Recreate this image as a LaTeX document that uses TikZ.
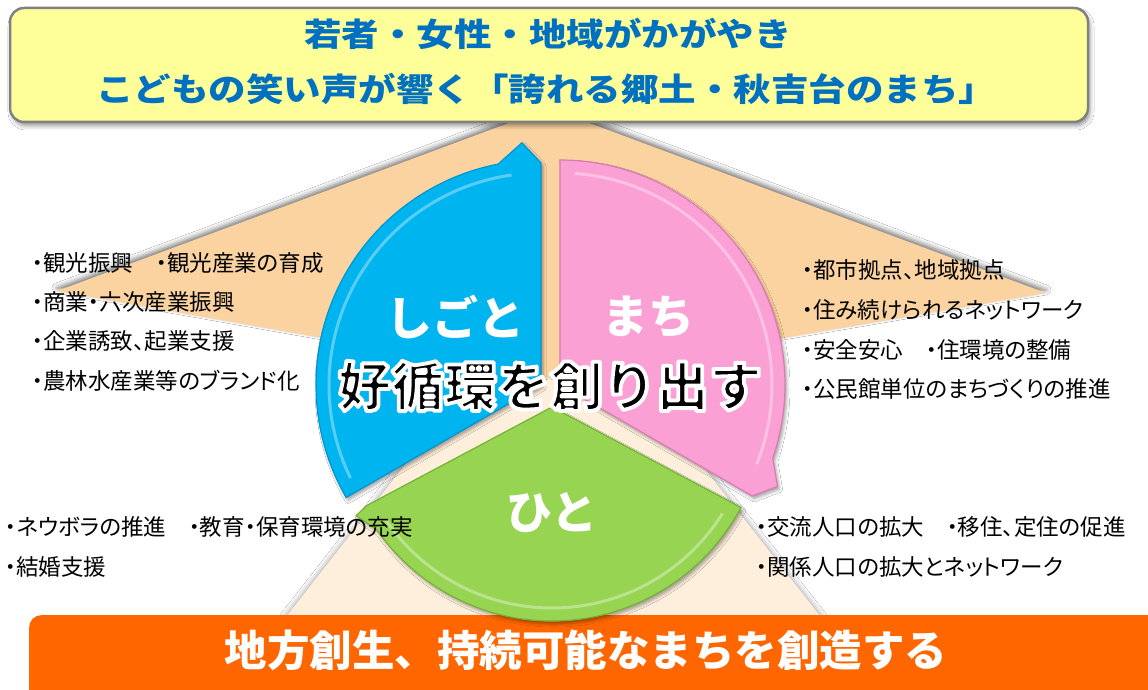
\documentclass[tikz,border=0pt]{standalone}
\usepackage{fontspec}
\newfontfamily\jp{Noto Sans CJK JP}
\newfontfamily\jpp[RawFeature=+palt]{Noto Sans CJK JP}
\usetikzlibrary{shadows.blur}
\definecolor{bannerY}{HTML}{FFFF99}
\definecolor{bannerB}{HTML}{0070C0}
\definecolor{orangeB}{HTML}{FF6600}
\definecolor{peach}{HTML}{FBD3A0}
\definecolor{lightpeach}{HTML}{FDEFDC}
\definecolor{segBlue}{HTML}{00B4F0}
\definecolor{segBlueD}{HTML}{0094D0}
\definecolor{segPink}{HTML}{FBA0D4}
\definecolor{segPinkD}{HTML}{D97AB0}
\definecolor{segGreen}{HTML}{96D452}
\definecolor{segGreenD}{HTML}{74B236}
\newcommand\outlinedtext[1]{\special{pdf:literal direct 2 Tr 3.8 w 1 j 1 1 1 RG}#1\special{pdf:literal direct 0 Tr 1 w 0 j}}
\tikzset{
  listtext/.style={anchor=west, inner sep=0pt, text=black, font=\jpp\fontsize{22.5}{24}\selectfont},
  seglabel/.style={inner sep=0pt, text=white, font=\jp\bfseries\fontsize{46}{48}\selectfont},
  toptext/.style={inner sep=0pt, text=bannerB, font=\jp\bfseries\fontsize{37.5}{40}\selectfont},
  segshade/.style={line width=3pt, white, opacity=0.35},
}
\begin{document}
\begin{tikzpicture}[x=1pt,y=1pt]
\useasboundingbox (0,0) rectangle (1148,689);
\fill[white] (0,0) rectangle (1148,689);
% background fans
\fill[lightpeach, blur shadow={shadow xshift=0pt, shadow yshift=0pt, shadow blur radius=6pt, shadow opacity=45}]
  (553,414) -- (846,40) -- (261,40) -- cycle;
\fill[peach, blur shadow={shadow xshift=0pt, shadow yshift=3pt, shadow blur radius=5pt, shadow opacity=55}]
  (549,581) -- (1046,396) -- (549,311) -- (57,398) -- cycle;
% top banner
\node[draw=gray, line width=2.5pt, fill=bannerY, rounded corners=14pt,
      minimum width=1078pt, minimum height=114pt,
      blur shadow={shadow xshift=2pt, shadow yshift=-4pt, shadow blur radius=4pt}] (top) at (549,624) {};
\node[toptext] (t1) at (548,655) {\scalebox{1}[0.86]{若者・女性・地域がかがやき}};
\node[toptext] (t2) at (546,600) {\scalebox{1}[0.86]{こどもの笑い声が響く「誇れる郷土・秋吉台のまち」}};
% bottom banner
\node[fill=orangeB, rounded corners=12pt, minimum width=1145pt, minimum height=100pt,
      anchor=north west, inner sep=0pt] (bot) at (29,74) {};
\node[inner sep=0pt, text=white, font=\jp\bfseries\fontsize{42.5}{44}\selectfont] (bt) at (586,39) {地方創生、持続可能なまちを創造する};
% segments
\begin{scope}[shift={(541,304)}]
  \fill[segBlue, draw=segBlueD, line width=1.2pt, blur shadow={shadow xshift=2pt, shadow yshift=-3pt, shadow blur radius=3pt, shadow opacity=35}]
    (0,0) -- (210:225) arc[start angle=210, end angle=101, radius=225] -- (94.5:243) -- (90:222) -- cycle;
  \draw[segshade] (206:212) arc[start angle=206, end angle=98, radius=212];
\end{scope}
\begin{scope}[shift={(560,304)}]
  \fill[segPink, draw=segPinkD, line width=1.2pt, blur shadow={shadow xshift=2pt, shadow yshift=-3pt, shadow blur radius=3pt, shadow opacity=35}]
    (0,0) -- (90:225) arc[start angle=90, end angle=-19, radius=225] -- (-25:240) -- (-30:222) -- cycle;
  \draw[segshade] (86:212) arc[start angle=86, end angle=-22, radius=212];
\end{scope}
\begin{scope}[shift={(552,282)}]
  \fill[segGreen, draw=segGreenD, line width=1.2pt, blur shadow={shadow xshift=2pt, shadow yshift=-3pt, shadow blur radius=3pt, shadow opacity=35}]
    (0,0) -- (-28:214) arc[start angle=-28, end angle=-145, radius=214] -- (-151:224) -- (-152:209) -- cycle;
  \draw[segshade] (-32:201) arc[start angle=-32, end angle=-146, radius=201];
\end{scope}
\node[seglabel] (shigoto) at (455,372) {しごと};
\node[seglabel] (machi) at (648,372) {まち};
\node[seglabel] (hito) at (552,176) {ひと};
\node[inner sep=0pt, text=black, font=\jp\bfseries\fontsize{53}{56}\selectfont] (center) at (550,303) {\outlinedtext{好循環を創り出す}};
% lists
\node[listtext] (l1) at (32,426) {・観光振興　・観光産業の育成};
\node[listtext] (l2) at (32,387) {・商業・六次産業振興};
\node[listtext] (l3) at (32,348) {・企業誘致、起業支援};
\node[listtext] (l4) at (32,308) {・農林水産業等のブランド化};
\node[listtext] (r1) at (802,419) {・都市拠点、地域拠点};
\node[listtext] (r2) at (802,379) {・住み続けられるネットワーク};
\node[listtext] (r3) at (802,339) {・安全安心　・住環境の整備};
\node[listtext] (r4) at (802,300) {・公民館単位のまちづくりの推進};
\node[listtext] (bl1) at (5,162) {・ネウボラの推進　・教育・保育環境の充実};
\node[listtext] (bl2) at (5,122) {・結婚支援};
\node[listtext] (br1) at (756,162) {・交流人口の拡大　・移住、定住の促進};
\node[listtext] (br2) at (756,122) {・関係人口の拡大とネットワーク};
\end{tikzpicture}
\end{document}
